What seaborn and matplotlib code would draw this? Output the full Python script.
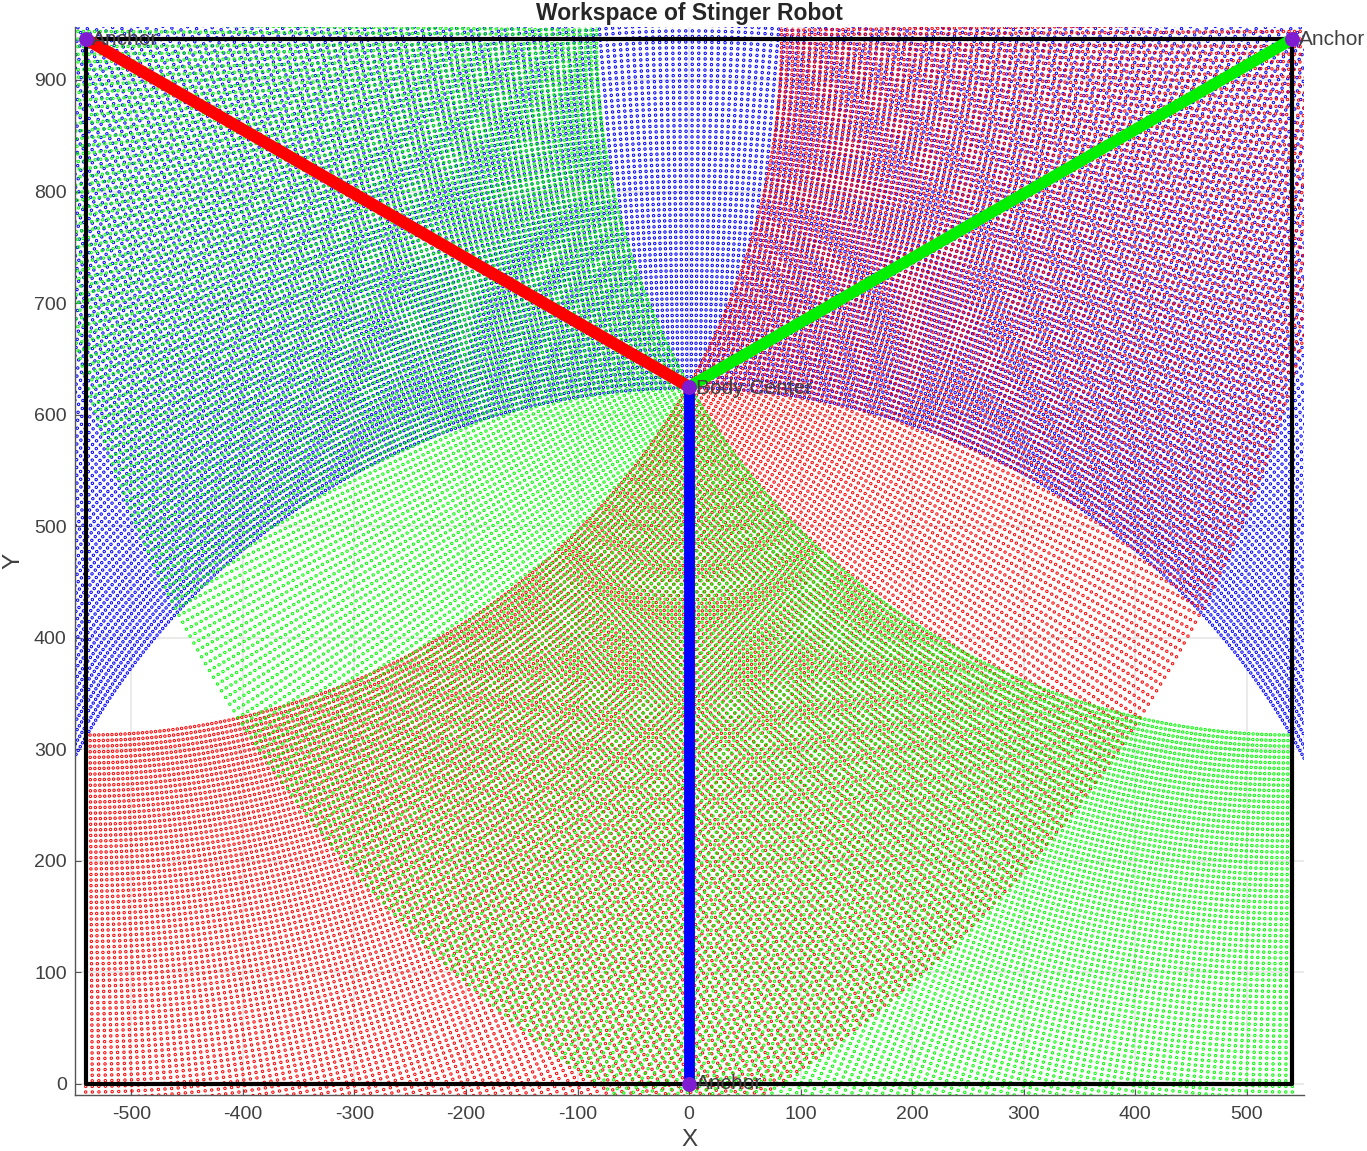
import numpy as np
import pandas as pd
import matplotlib
matplotlib.use('Agg')
import matplotlib.pyplot as plt
import seaborn as sns

# Anchors and body centre
anchor_x = [-541, 541, 0]
anchor_y = [936.7, 936.7, 0]
body_x = 0
body_y = 625
x_ticks = [-500, -400, -300, -200, -100, 0, 100, 200, 300, 400, 500]
y_ticks = [0, 100, 200, 300, 400, 500, 600, 700, 800, 900]

# Reach of each cable: rings measured about 5 units apart, from 624 to 1124.
# The dots are too many to read one at a time, so they are rings x rays.
rings = [624, 629, 634, 639, 644, 649, 654, 659, 664, 669, 674, 679, 684, 689, 694, 699, 704,
         709, 714, 719, 724, 729, 734, 739, 744, 749, 754, 759, 764, 769, 774, 779, 784, 789,
         794, 799, 804, 809, 814, 819, 824, 829, 834, 839, 844, 849, 854, 859, 864, 869, 874,
         879, 884, 889, 894, 899, 904, 909, 914, 919, 924, 929, 934, 939, 944, 949, 954, 959,
         964, 969, 974, 979, 984, 989, 994, 999, 1004, 1009, 1014, 1019, 1024, 1029, 1034,
         1039, 1044, 1049, 1054, 1059, 1064, 1069, 1074, 1079, 1084, 1089, 1094, 1099, 1104,
         1109, 1114, 1119, 1124]

# Sweep angles in degrees, measured about 0.36 apart along the arcs
rays = [0.00, 0.36, 0.72, 1.08, 1.44, 1.80, 2.16, 2.52, 2.88, 3.24, 3.60, 3.96, 4.32, 4.68, 5.04,
        5.40, 5.76, 6.12, 6.48, 6.84, 7.20, 7.56, 7.92, 8.28, 8.64,
        9.00, 9.36, 9.72, 10.08, 10.44, 10.80, 11.16, 11.52, 11.88, 12.24, 12.60, 12.96, 13.32,
        13.68, 14.04, 14.40, 14.76, 15.12, 15.48, 15.84, 16.20, 16.56, 16.92, 17.28, 17.64,
        18.00, 18.36, 18.72, 19.08, 19.44, 19.80, 20.16, 20.52, 20.88, 21.24, 21.60, 21.96, 22.32,
        22.68, 23.04, 23.40, 23.76, 24.12, 24.48, 24.84, 25.20, 25.56, 25.92, 26.28, 26.64,
        27.00, 27.36, 27.72, 28.08, 28.44, 28.80, 29.16, 29.52, 29.88, 30.24, 30.60, 30.96, 31.32,
        31.68, 32.04, 32.40, 32.76, 33.12, 33.48, 33.84, 34.20, 34.56, 34.92, 35.28, 35.64,
        36.00, 36.36, 36.72, 37.08, 37.44, 37.80, 38.16, 38.52, 38.88, 39.24, 39.60, 39.96, 40.32,
        40.68, 41.04, 41.40, 41.76, 42.12, 42.48, 42.84, 43.20, 43.56, 43.92, 44.28, 44.64,
        45.00, 45.36, 45.72, 46.08, 46.44, 46.80, 47.16, 47.52, 47.88, 48.24, 48.60, 48.96, 49.32,
        49.68, 50.04, 50.40, 50.76, 51.12, 51.48, 51.84, 52.20, 52.56, 52.92, 53.28, 53.64,
        54.00, 54.36, 54.72, 55.08, 55.44, 55.80, 56.16, 56.52, 56.88, 57.24, 57.60, 57.96, 58.32,
        58.68, 59.04, 59.40, 59.76, 60.12, 60.48, 60.84, 61.20, 61.56, 61.92, 62.28, 62.64,
        63.00, 63.36, 63.72, 64.08, 64.44, 64.80, 65.16, 65.52, 65.88, 66.24, 66.60, 66.96, 67.32,
        67.68, 68.04, 68.40, 68.76, 69.12, 69.48, 69.84, 70.20, 70.56, 70.92, 71.28, 71.64,
        72.00, 72.36, 72.72, 73.08, 73.44, 73.80, 74.16, 74.52, 74.88, 75.24, 75.60, 75.96, 76.32,
        76.68, 77.04, 77.40, 77.76, 78.12, 78.48, 78.84, 79.20, 79.56, 79.92, 80.28, 80.64,
        81.00, 81.36, 81.72, 82.08, 82.44, 82.80, 83.16, 83.52, 83.88, 84.24, 84.60, 84.96, 85.32,
        85.68, 86.04, 86.40, 86.76, 87.12, 87.48, 87.84, 88.20, 88.56, 88.92, 89.28, 89.64,
        90.00, 90.36, 90.72, 91.08]


def sweep(cx, cy, angles):
    rr, aa = np.meshgrid(rings, np.radians(angles))
    return pd.DataFrame({'x': cx + (rr * np.cos(aa)).ravel(), 'y': cy + (rr * np.sin(aa)).ravel()})


ray_arr = np.array(rays)
red_pts = sweep(anchor_x[0], anchor_y[0], 270 + ray_arr)
green_pts = sweep(anchor_x[1], anchor_y[1], 270 - ray_arr)
blue_pts = sweep(anchor_x[2], anchor_y[2], np.concatenate([90 - 0.18 - ray_arr, 90 + 0.18 + ray_arr]))

sns.set_theme(style='whitegrid')
plt.rcParams['font.family'] = ['Liberation Sans', 'DejaVu Sans']
plt.rcParams['axes.unicode_minus'] = False

W, H = 1367, 1151
fig = plt.figure(figsize=(W / 100, H / 100), dpi=100)
ax = fig.add_axes([75 / W, 1 - 1095 / H, (1304 - 75) / W, (1095 - 27) / H])
ax.set_xlim(-550.6, 551.4)
ax.set_ylim(-10, 947.5)
ax.set_axisbelow(True)
ax.grid(True, color='#e4e4e4', linewidth=1.1)

for pts, col in [(blue_pts, '#0000ff'), (red_pts, '#ff0000'), (green_pts, '#00ff00')]:
    sns.scatterplot(data=pts, x='x', y='y', ax=ax, marker='o', s=3.0, linewidth=0.7,
                    facecolors='none', edgecolor=col, legend=False)

# Frame between the anchors
frame_x = [anchor_x[0], anchor_x[1], anchor_x[1], anchor_x[0], anchor_x[0]]
frame_y = [anchor_y[0], anchor_y[1], 0, 0, anchor_y[0]]
sns.lineplot(x=frame_x, y=frame_y, ax=ax, sort=False, estimator=None, color='black', linewidth=3)

# Cables
for i, col, lw in [(0, '#ff0000', 8.6), (1, '#00f000', 8.3), (2, '#0000ff', 7.8)]:
    sns.lineplot(x=[anchor_x[i], body_x], y=[anchor_y[i], body_y], ax=ax, sort=False,
                 estimator=None, color=col, linewidth=lw, solid_capstyle='butt')

sns.scatterplot(x=anchor_x + [body_x], y=anchor_y + [body_y], ax=ax, s=115, color='#7f1bd0',
                linewidth=0, zorder=6, clip_on=False, legend=False)

for i in range(3):
    ax.text(anchor_x[i] + 6, anchor_y[i], 'Anchor', fontsize=15, color='#404040',
            va='center', ha='left', zorder=7, clip_on=False)
ax.text(body_x + 6, body_y - 1.5, 'Body Center', fontsize=15, color='#404040', va='center', ha='left', zorder=7)

ax.set_xticks(x_ticks)
ax.set_yticks(y_ticks)
ax.tick_params(axis='both', direction='in', length=4, width=0.8, color='#555555',
               labelsize=14, labelcolor='#404040', bottom=True, left=True)
ax.tick_params(axis='x', pad=8)
ax.tick_params(axis='y', pad=6)
for side in ['top', 'right']:
    ax.spines[side].set_visible(False)
for side in ['left', 'bottom']:
    ax.spines[side].set_color('#555555')
    ax.spines[side].set_linewidth(1.0)

ax.set_xlabel('X', fontsize=17.5, color='#404040', labelpad=4)
ax.set_ylabel('Y', fontsize=17.5, color='#404040', labelpad=7)
ax.set_title('Workspace of Stinger Robot', fontsize=16.5, fontweight='bold', color='#262626', pad=5)

fig.savefig('out.png', dpi=100)
plt.close(fig)
